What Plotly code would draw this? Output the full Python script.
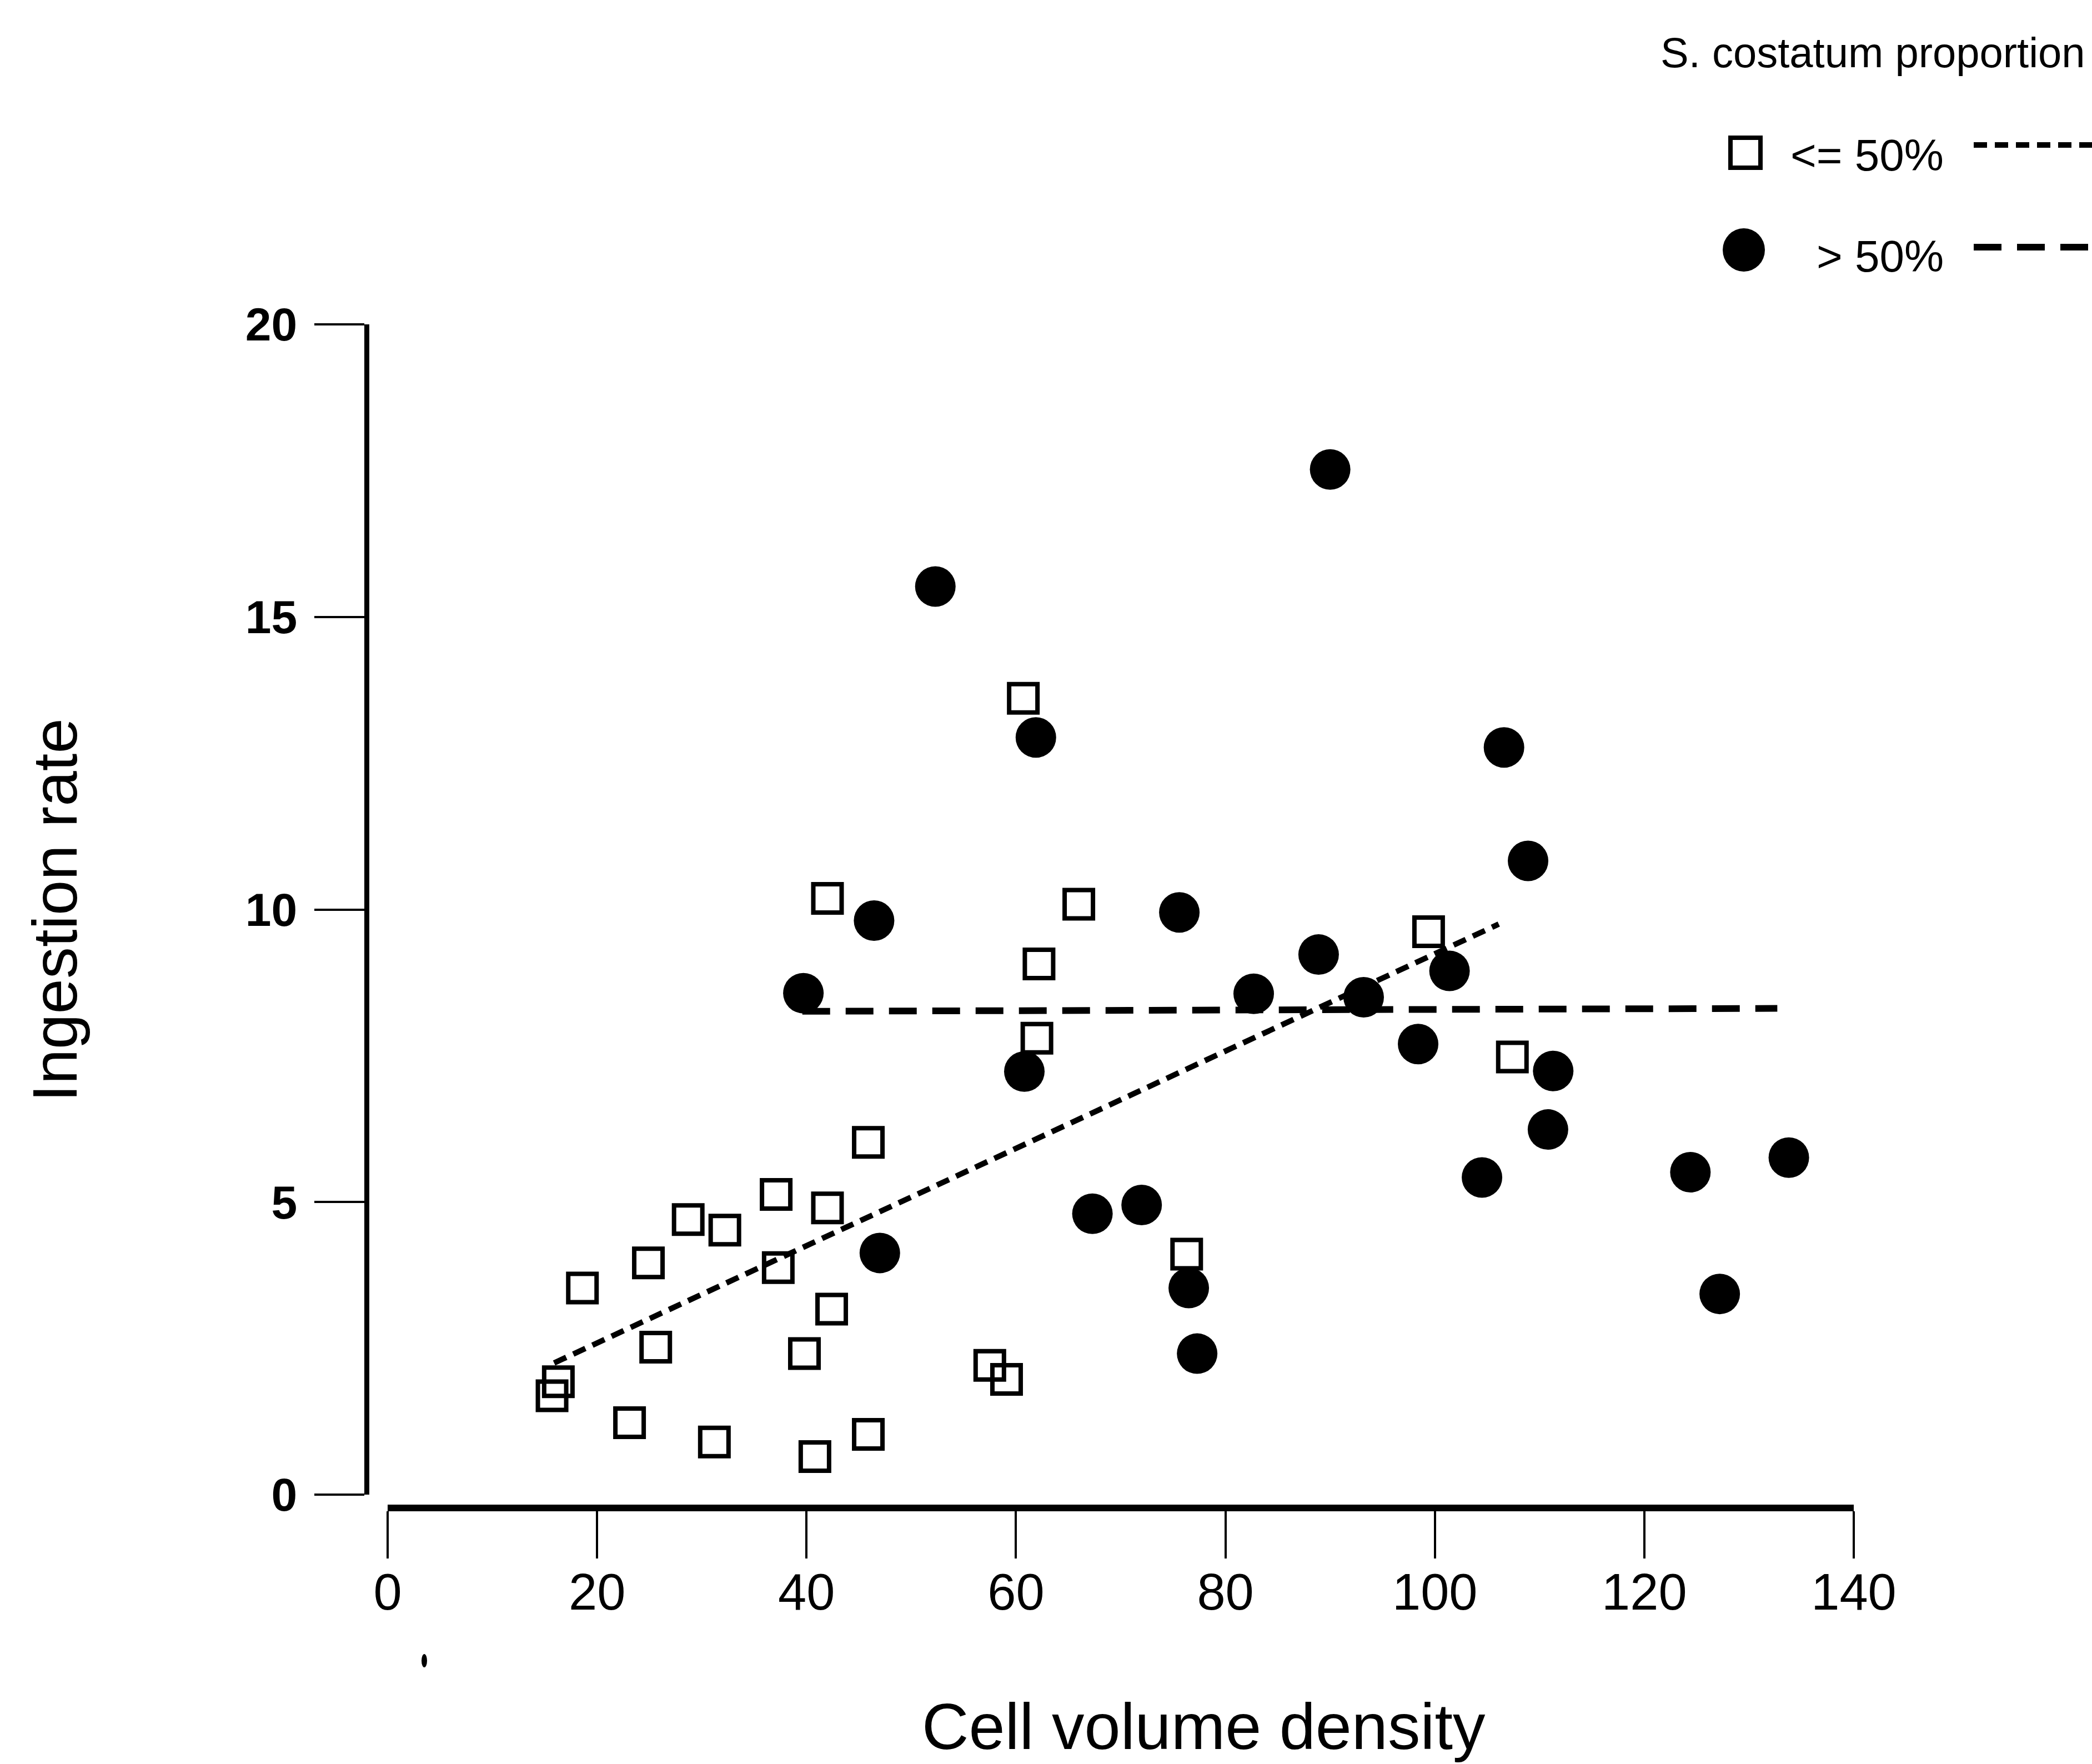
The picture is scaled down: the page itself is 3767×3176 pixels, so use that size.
import plotly.graph_objects as go

W, H = 3767, 3176

# ---- data ----
low_x = [60.7, 42.0, 66.0, 62.2, 99.4, 62.0, 107.4, 45.9, 37.1, 42.0, 28.7, 32.2, 24.9, 37.3,
         18.6, 76.3, 42.4, 25.6, 39.8, 57.5, 59.1, 16.3, 15.7, 23.1, 31.2, 40.8, 45.9]
low_y = [13.61, 10.19, 10.09, 9.07, 9.62, 7.80, 7.48, 6.02, 5.13, 4.90, 4.70, 4.52, 3.96, 3.88,
         3.53, 4.11, 3.17, 2.52, 2.41, 2.21, 1.97, 1.93, 1.69, 1.23, 0.90, 0.65, 1.03]

high_x = [90.0, 52.3, 61.9, 106.6, 108.9, 46.45, 75.6, 39.7, 88.9, 82.7, 93.2, 101.4, 60.8,
          98.4, 111.3, 110.8, 104.5, 124.4, 133.8, 67.3, 72.0, 47.0, 76.5, 77.3, 127.2]
high_y = [17.52, 15.52, 12.94, 12.77, 10.83, 9.81, 9.95, 8.57, 9.23, 8.56, 8.50, 8.95, 7.23,
          7.70, 7.24, 6.24, 5.42, 5.51, 5.76, 4.80, 4.95, 4.13, 3.53, 2.41, 3.43]

fit_low_x = [15.9, 106.1]
fit_low_y = [2.25, 9.75]
fit_high_x = [39.6, 132.7]
fit_high_y = [8.26, 8.31]

x_ticks = [0, 20, 40, 60, 80, 100, 120, 140]
y_ticks = [0, 5, 10, 15, 20]

legend_title = "S. costatum proportion"
legend_labels = ["<= 50%", "> 50%"]
x_title = "Cell volume density"
y_title = "Ingestion rate"

FONT = "Liberation Sans, Arial, sans-serif"


def px(x):
    return x / W


def py(y):
    return 1 - y / H


fig = go.Figure()

fig.add_trace(go.Scatter(
    x=low_x, y=low_y, mode="markers",
    marker=dict(symbol="square-open", size=51, color="black", line=dict(color="black", width=8)),
    showlegend=False, cliponaxis=False))
fig.add_trace(go.Scatter(
    x=high_x, y=high_y, mode="markers",
    marker=dict(symbol="circle", size=73, color="black", line=dict(width=0)),
    showlegend=False, cliponaxis=False))
fig.add_trace(go.Scatter(
    x=fit_low_x, y=fit_low_y, mode="lines",
    line=dict(color="black", width=10, dash="24px,14px"), showlegend=False))
fig.add_trace(go.Scatter(
    x=fit_high_x, y=fit_high_y, mode="lines",
    line=dict(color="black", width=12, dash="50px,28px"), showlegend=False))

shapes = [
    # legend keys
    dict(type="rect", xref="paper", yref="paper",
         x0=px(3116), x1=px(3170), y0=py(302), y1=py(248),
         line=dict(color="black", width=8), fillcolor="rgba(0,0,0,0)"),
    dict(type="circle", xref="paper", yref="paper",
         x0=px(3102), x1=px(3178), y0=py(489), y1=py(411),
         line=dict(color="black", width=0), fillcolor="black"),
    dict(type="line", xref="paper", yref="paper",
         x0=px(3554), x1=1, y0=py(261), y1=py(261),
         line=dict(color="black", width=10, dash="24px,14px")),
    dict(type="line", xref="paper", yref="paper",
         x0=px(3554), x1=1, y0=py(445), y1=py(445),
         line=dict(color="black", width=12, dash="50px,28px")),
    # small speck below the x axis in the original scan
    dict(type="circle", xref="paper", yref="paper",
         x0=px(759), x1=px(769), y0=py(3002), y1=py(2978),
         line=dict(color="black", width=0), fillcolor="black"),
]

annotations = [
    dict(text=legend_title, xref="paper", yref="paper", x=px(3372), y=py(95),
         xanchor="center", yanchor="middle", showarrow=False,
         font=dict(family=FONT, size=76, color="black")),
    dict(text=legend_labels[0], xref="paper", yref="paper", x=px(3502), y=py(279),
         xanchor="right", yanchor="middle", showarrow=False,
         font=dict(family=FONT, size=80, color="black")),
    dict(text=legend_labels[1], xref="paper", yref="paper", x=px(3502), y=py(462),
         xanchor="right", yanchor="middle", showarrow=False,
         font=dict(family=FONT, size=80, color="black")),
    dict(text=x_title, xref="paper", yref="paper", x=px(2167), y=0,
         xanchor="center", yanchor="bottom", showarrow=False,
         font=dict(family=FONT, size=117, color="black")),
    dict(text=y_title, xref="paper", yref="paper", x=px(98), y=py(1639),
         xanchor="center", yanchor="middle", showarrow=False, textangle=-90,
         font=dict(family=FONT, size=114, color="black")),
]

fig.update_layout(
    width=W, height=H, autosize=False,
    margin=dict(l=0, r=0, t=0, b=0, pad=0, autoexpand=False),
    paper_bgcolor="white", plot_bgcolor="white",
    showlegend=False,
    shapes=shapes, annotations=annotations,
    xaxis=dict(
        domain=[px(698), px(3338)], range=[0, 140],
        anchor="free", position=py(2715), automargin=False,
        tickmode="array", tickvals=x_ticks, ticktext=[str(v) for v in x_ticks],
        ticks="outside", ticklen=85, tickwidth=4, tickcolor="black",
        showline=True, linewidth=12, linecolor="black",
        showgrid=False, zeroline=False, ticklabelstandoff=-18,
        tickfont=dict(family=FONT, size=92, color="black"),
    ),
    yaxis=dict(
        domain=[py(2691), py(584)], range=[0, 20],
        anchor="free", position=px(660), automargin=False,
        tickmode="array", tickvals=y_ticks, ticktext=[str(v) for v in y_ticks],
        ticks="outside", ticklen=90, tickwidth=4, tickcolor="black",
        showline=True, linewidth=9, linecolor="black",
        showgrid=False, zeroline=False, ticklabelstandoff=14,
        tickfont=dict(family=FONT, size=84, color="black", weight="bold"),
    ),
)

fig.write_html("out.html")
